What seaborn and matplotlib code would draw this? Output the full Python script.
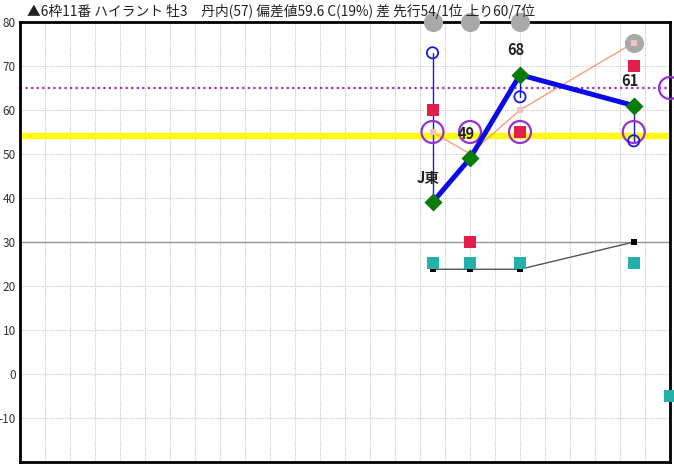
import matplotlib
matplotlib.use("Agg")
import matplotlib.pyplot as plt
import pandas as pd
import seaborn as sns

# race positions on the x axis (0..26 grid)
race_x = [16.5, 18.0, 20.0, 24.55]

title = "▲6枠11番 ハイラント 牡3　丹内(57) 偏差値59.6 C(19%) 差 先行54/1位 上り60/7位"

# main score (green diamonds + thick blue line)
score = [39, 49, 68, 61]
score_labels = ["J東", "49", "68", "61"]

# blue open circles linked to the score by a thin vertical line
blue_x = [16.5, 20.0, 24.55]
blue_val = [73, 63, 53]
blue_base = [39, 68, 61]

# salmon line with small pink squares
salmon = [55, 50, 60, 75.3]

# gray circles (top row and last race)
gray_x = [16.5, 18.0, 20.0, 24.55]
gray_val = [80, 80, 80, 75.3]

# purple open circles
purple_x = [16.5, 18.0, 20.0, 24.55, 26.0]
purple_val = [55, 55, 55, 55, 65]

# red squares
red_x = [16.5, 18.0, 20.0, 24.55]
red_val = [60, 30, 55, 70]

# teal squares
teal_x = [16.5, 18.0, 20.0, 24.55, 26.0]
teal_val = [25.3, 25.3, 25.3, 25.3, -5]

# black small squares + gray line
black_val = [23.8, 23.8, 23.8, 30]

yellow_level = 54.2
purple_level = 65
y_ticks = [-10, 0, 10, 20, 30, 40, 50, 60, 70, 80]

sns.set_style("white")
plt.rcParams["font.family"] = ["Noto Sans CJK JP", "DejaVu Sans"]

fig = plt.figure(figsize=(6.74, 4.66), dpi=100)
ax = fig.add_axes([20 / 674, 4 / 466, 650 / 674, 440 / 466])
ax.set_xlim(0, 26)
ax.set_ylim(-20, 80)

# grid
ax.set_xticks(range(1, 26))
ax.set_yticks(y_ticks)
ax.grid(True, color="#c8c8c8", linestyle=(0, (1, 1)), linewidth=0.8)
ax.axhline(30, color="#999999", linewidth=1.0, zorder=1)
ax.tick_params(axis="x", length=0, labelbottom=False)
ax.tick_params(axis="y", length=0, pad=3, labelsize=8.5, labelcolor="#333333")
ax.set_yticklabels([str(v) for v in y_ticks])
for s in ax.spines.values():
    s.set_color("black")
    s.set_linewidth(2)

# reference lines
ax.axhline(yellow_level, color="#ffff00", linewidth=4.5, zorder=2)
ax.axhline(purple_level, color="#9932cc", linewidth=1.6, linestyle=(0, (1, 1.5)), zorder=2)

df = pd.DataFrame({"x": race_x, "score": score, "salmon": salmon, "black": black_val})

# black line + small squares
sns.lineplot(data=df, x="x", y="black", color="#555555", linewidth=1.0, ax=ax, zorder=3)
sns.scatterplot(data=df, x="x", y="black", marker="s", s=20, color="black", linewidth=0, ax=ax, zorder=3)

# teal squares
sns.scatterplot(x=teal_x, y=teal_val, marker="s", s=70, color="#22b2aa", linewidth=0, ax=ax,
                zorder=4, clip_on=False)

# red squares
sns.scatterplot(x=red_x, y=red_val, marker="s", s=70, color="#e0204a", linewidth=0, ax=ax, zorder=6)

# salmon line
sns.lineplot(data=df, x="x", y="salmon", color="#f4a07a", linewidth=1.0, ax=ax, zorder=4)

# gray circles
sns.scatterplot(x=gray_x, y=gray_val, marker="o", s=190, color="#a9a9a9", linewidth=0, ax=ax,
                zorder=5, clip_on=False)
sns.scatterplot(data=df, x="x", y="salmon", marker="s", s=22, color="#f8c0c0", linewidth=0, ax=ax, zorder=6)

# blue vertical links and open circles
for bx, lo, hi in zip(blue_x, blue_base, blue_val):
    ax.plot([bx, bx], [lo, hi], color="#1a1ae6", linewidth=1.0, zorder=4)

# purple open circles
sns.scatterplot(x=purple_x, y=purple_val, marker="o", s=250, facecolor="none", edgecolor="#9932cc",
                linewidth=1.6, ax=ax, zorder=5, clip_on=False)

sns.scatterplot(x=blue_x, y=blue_val, marker="o", s=65, facecolor="none", edgecolor="#1a1ae6",
                linewidth=1.3, ax=ax, zorder=7)

# main score line
sns.lineplot(data=df, x="x", y="score", color="#0a0ae8", linewidth=3.6, ax=ax, zorder=8)
sns.scatterplot(data=df, x="x", y="score", marker="D", s=85, color="#0a7a0a", linewidth=0, ax=ax, zorder=9)

for xv, yv, lab in zip(race_x, score, score_labels):
    ax.annotate(lab, (xv, yv), xytext=(-3, 12), textcoords="offset points", ha="center",
                va="bottom", fontsize=10.5, fontweight="bold", color="#222222", zorder=10)

ax.set_xlabel("")
ax.set_ylabel("")

fig.text(27 / 674, 1 - 11 / 466, title, fontsize=9.9, color="#222222", va="center", ha="left")

fig.savefig("out.png", dpi=100)
